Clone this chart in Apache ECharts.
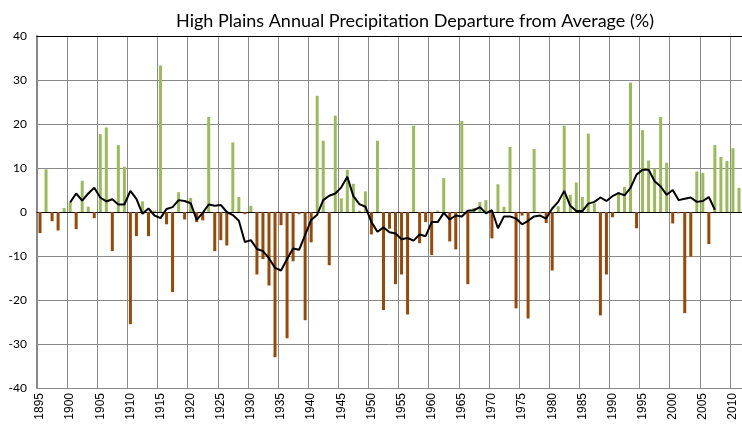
<!DOCTYPE html>
<html>
<head>
<meta charset="utf-8">
<script src="https://cdn.jsdelivr.net/npm/echarts@6/dist/echarts.min.js"></script>
<style>html,body{margin:0;padding:0;background:#fff}#c{width:742px;height:424px}</style>
</head>
<body>
<div id="c"></div>
<script>
var titleText = 'High Plains Annual Precipitation Departure from Average (%)';
var firstYear = 1895;
var departures = [
-4.8, 9.7, -2.1, -4.2, 0.9,
2.2, -3.9, 7.1, 1.2, -1.4, 17.7, 19.2, -8.9, 15.2, 10.3,
-25.5, -5.5, 2.4, -5.5, 0.3, 33.3, -2.8, -18.2, 4.5, -1.7,
3.2, -2.3, -1.9, 21.6, -8.9, -6.4, -7.6, 15.8, 3.4, -0.5,
1.4, -14.2, -10.7, -16.7, -33.0, -3.0, -28.7, -11.2, -0.5, -24.6,
-6.9, 26.4, 16.2, -12.1, 21.9, 3.1, 9.6, 6.4, 0.3, 4.7,
-5.1, 16.2, -22.3, -3.8, -16.4, -14.2, -23.3, 19.6, -7.1, -2.3,
-9.8, 0.3, 7.7, -6.7, -8.5, 20.7, -16.4, 0.9, 2.3, 2.7,
-6.0, 6.3, 1.2, 14.8, -21.9, -0.8, -24.2, 14.3, -0.3, -2.5,
-13.3, 1.3, 19.6, 3.9, 6.7, 3.4, 17.8, 2.0, -23.5, -14.2,
-1.2, 4.5, 5.7, 29.4, -3.7, 18.6, 11.7, 9.9, 21.6, 11.2,
-2.6, -0.3, -23.0, -10.1, 9.2, 8.9, -7.3, 15.2, 12.5, 11.6,
14.5, 5.5
];
var avgStartYear = 1900;
var movingAvg = [
2.2, 4.2, 2.6, 4.2, 5.5, 3.3, 2.4, 2.9, 1.7, 1.7,
4.8, 3.0, -0.4, 0.8, -0.8, -1.4, 0.7, 1.1, 2.7, 2.5,
2.0, -1.8, -0.2, 1.7, 1.4, 1.6, 0.0, -0.7, -2.0, -6.8,
-6.4, -8.4, -8.9, -10.5, -12.7, -13.3, -10.7, -8.3, -8.6, -5.2,
-1.8, -0.6, 2.7, 3.7, 4.2, 5.6, 8.0, 3.6, 1.8, 1.2,
-2.3, -4.5, -3.5, -4.6, -4.9, -6.2, -5.9, -6.5, -5.1, -5.5,
-2.3, -2.3, -0.2, -1.7, -0.8, -1.0, 0.3, 0.4, 1.1, -0.3,
0.4, -3.7, -1.0, -1.0, -1.5, -2.8, -2.0, -1.0, -0.8, -1.5,
0.8, 2.3, 4.8, 1.4, 0.2, 0.2, 1.9, 2.3, 3.3, 2.5,
3.6, 4.3, 3.8, 5.5, 8.5, 9.6, 9.6, 7.0, 5.8, 3.9,
5.0, 2.7, 3.0, 3.3, 2.3, 2.5, 3.4, 0.5
];
var yTicks = {min: -40, max: 40, interval: 10};

var years = departures.map(function (v, i) { return String(firstYear + i); });
var lineData = years.map(function (y) {
  var k = Number(y) - avgStartYear;
  return (k >= 0 && k < movingAvg.length) ? movingAvg[k] : null;
});

var chart = echarts.init(document.getElementById('c'), null, {renderer: 'canvas'});
var gridColor = '#8a8a8a';
chart.setOption({
  animation: false,
  backgroundColor: '#ffffff',
  title: {
    text: titleText,
    left: 410, top: 7, textAlign: 'center',
    textStyle: {fontFamily: 'Lato', fontSize: 18, fontWeight: 'normal', color: '#000'}
  },
  grid: {left: 37, right: -3, top: 36, bottom: 36, containLabel: false},
  xAxis: [{
    type: 'category',
    data: years,
    boundaryGap: true,
    position: 'bottom',
    axisLine: {lineStyle: {color: '#000', width: 1}},
    axisTick: {show: false},
    axisLabel: {interval: 4, rotate: 90, margin: 5, fontFamily: 'Liberation Sans', fontSize: 12, color: '#000'},
    splitLine: {show: true, interval: 4, lineStyle: {color: gridColor, width: 1}}
  }, {
    type: 'category',
    data: years,
    position: 'top',
    axisLine: {lineStyle: {color: '#000', width: 1}},
    axisTick: {show: false},
    axisLabel: {show: false},
    splitLine: {show: false}
  }],
  yAxis: {
    type: 'value',
    min: yTicks.min, max: yTicks.max, interval: yTicks.interval,
    axisLine: {show: true, lineStyle: {color: '#888', width: 2}},
    axisTick: {show: false},
    axisLabel: {margin: 10, fontFamily: 'Lato', fontSize: 12, color: '#000'},
    splitLine: {show: true, lineStyle: {color: gridColor, width: 1}}
  },
  series: [{
    type: 'bar',
    data: departures,
    barWidth: 3,
    itemStyle: {
      color: function (p) { return p.value >= 0 ? '#9BBB59' : '#984807'; }
    }
  }, {
    type: 'line',
    data: lineData,
    symbol: 'none',
    connectNulls: false,
    lineStyle: {color: '#000', width: 2},
    z: 5
  }]
});
</script>
</body>
</html>
